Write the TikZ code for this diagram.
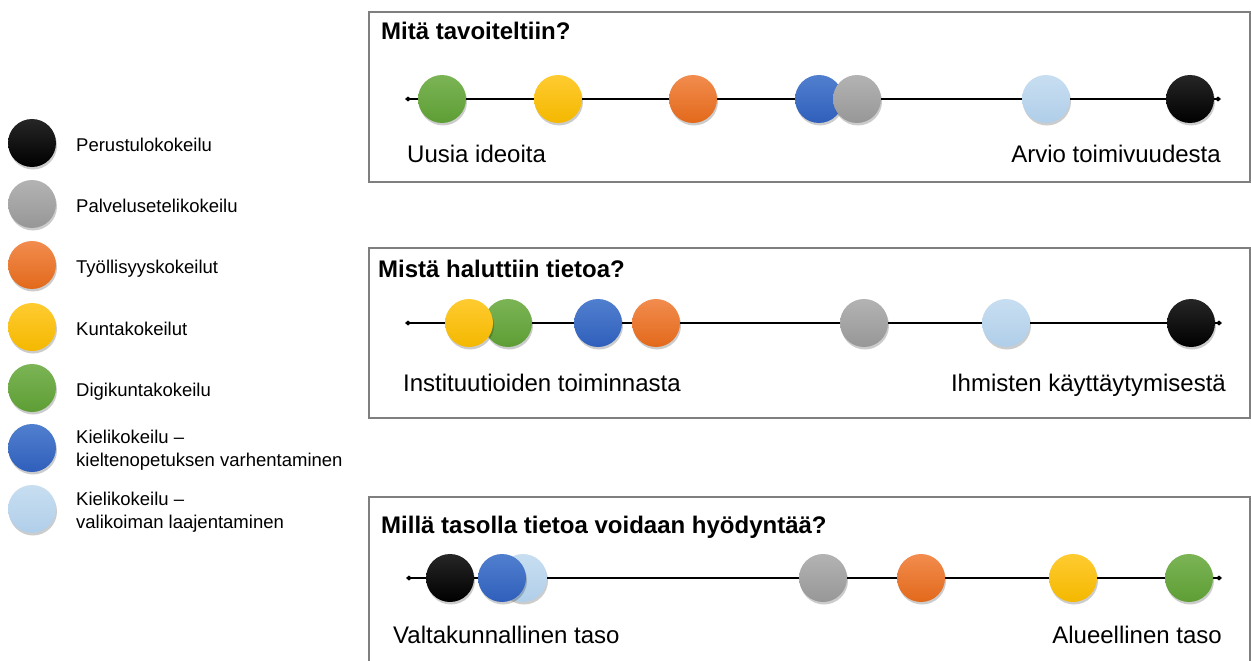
\documentclass[tikz,border=0pt]{standalone}
\usepackage{fontspec}
\setmainfont{Liberation Sans}
\usetikzlibrary{arrows.meta,shadows}
\definecolor{panelgray}{HTML}{7F7F7F}
\definecolor{cblackT}{HTML}{262626}\definecolor{cblackB}{HTML}{000000}
\definecolor{cgrayT}{HTML}{B3B3B3}\definecolor{cgrayB}{HTML}{979797}
\definecolor{corangeT}{HTML}{F28C4E}\definecolor{corangeB}{HTML}{E2691B}
\definecolor{cyellowT}{HTML}{FFCB30}\definecolor{cyellowB}{HTML}{F4B800}
\definecolor{cgreenT}{HTML}{7BB455}\definecolor{cgreenB}{HTML}{5E9E35}
\definecolor{cblueT}{HTML}{517FCF}\definecolor{cblueB}{HTML}{2F5FBB}
\definecolor{clblueT}{HTML}{C8DEF1}\definecolor{clblueB}{HTML}{B0CEE9}
\tikzset{
  ball/.style n args={2}{circle, minimum size=48pt, inner sep=0pt, top color=#1, bottom color=#2,
     drop shadow={shadow xshift=1pt, shadow yshift=-2.5pt, fill=black, opacity=0.2}},
  kblack/.style={ball={cblackT}{cblackB}},
  kgray/.style={ball={cgrayT}{cgrayB}},
  korange/.style={ball={corangeT}{corangeB}},
  kyellow/.style={ball={cyellowT}{cyellowB}},
  kgreen/.style={ball={cgreenT}{cgreenB}},
  kblue/.style={ball={cblueT}{cblueB}},
  klblue/.style={ball={clblueT}{clblueB}},
  panel/.style={draw=panelgray, line width=2.5pt},
  axisline/.style={line width=2.8pt, {Diamond[length=6pt,width=5pt]}-{Diamond[length=6pt,width=5pt]}},
  ttl/.style={inner sep=0pt, anchor=base west, font=\fontsize{24}{28}\selectfont\bfseries},
  lbl/.style={inner sep=0pt, font=\fontsize{24}{28}\selectfont},
  leg/.style={inner sep=0pt, anchor=base west, align=left, font=\fontsize{18.5}{22.5}\selectfont}
}
\begin{document}
\begin{tikzpicture}[x=1pt,y=-1pt]
\clip (0,0) rectangle (1251,661);
\fill[white] (0,0) rectangle (1251,661);

% ---------- legend ----------
\node[kblack]  (l1) at (32,143) {};
\node[kgray]   (l2) at (32,204) {};
\node[korange] (l3) at (32,265) {};
\node[kyellow] (l4) at (32,327) {};
\node[kgreen]  (l5) at (32,388) {};
\node[kblue]   (l6) at (32,448) {};
\node[klblue]  (l7) at (32,509) {};
\node[leg] (t1) at (76,151) {Perustulokokeilu};
\node[leg] (t2) at (76,212) {Palvelusetelikokeilu};
\node[leg] (t3) at (76,273) {Työllisyyskokeilut};
\node[leg] (t4) at (76,335) {Kuntakokeilut};
\node[leg] (t5) at (76,396) {Digikuntakokeilu};
\node[leg] (t6) at (76,466) {Kielikokeilu –\\kieltenopetuksen varhentaminen};
\node[leg] (t7) at (76,528) {Kielikokeilu –\\valikoiman laajentaminen};

% ---------- panel 1 ----------
\draw[panel] (369,12) rectangle (1250,182);
\node[ttl] (p1t) at (381,40) {Mitä tavoiteltiin?};
\coordinate (a1) at (405,99);
\coordinate (b1) at (1221,99);
\draw[axisline] (a1) -- (b1);
\node[kgreen]  (p1g) at (442,99) {};
\node[kyellow] (p1y) at (558,99) {};
\node[korange] (p1o) at (693,99) {};
\node[kblue]   (p1b) at (819,99) {};
\node[kgray]   (p1s) at (857,99) {};
\node[klblue]  (p1l) at (1046,99) {};
\node[kblack]  (p1k) at (1190,99) {};
\node[lbl, anchor=base west] (p1a) at (407,162) {Uusia ideoita};
\node[lbl, anchor=base east] (p1b2) at (1221,162) {Arvio toimivuudesta};

% ---------- panel 2 ----------
\draw[panel] (369,248) rectangle (1250,418);
\node[ttl] (p2t) at (378,277) {Mistä haluttiin tietoa?};
\coordinate (a2) at (405,323);
\coordinate (b2) at (1222,323);
\draw[axisline] (a2) -- (b2);
\node[kgreen]  (p2g) at (508,323) {};
\node[kyellow] (p2y) at (469,323) {};
\node[kblue]   (p2b) at (598,323) {};
\node[korange] (p2o) at (656,323) {};
\node[kgray]   (p2s) at (864,323) {};
\node[klblue]  (p2l) at (1006,323) {};
\node[kblack]  (p2k) at (1191,323) {};
\node[lbl, anchor=base west] (p2a) at (403,391) {Instituutioiden toiminnasta};
\node[lbl, anchor=base east] (p2b2) at (1226,391) {Ihmisten käyttäytymisestä};

% ---------- panel 3 ----------
\draw[panel] (369,497) rectangle (1250,700);
\node[ttl] (p3t) at (381,533) {Millä tasolla tietoa voidaan hyödyntää?};
\coordinate (a3) at (406,578);
\coordinate (b3) at (1222,578);
\draw[axisline] (a3) -- (b3);
\node[kblack]  (p3k) at (450,578) {};
\node[klblue]  (p3l) at (523,578) {};
\node[kblue]   (p3b) at (502,578) {};
\node[kgray]   (p3s) at (823,578) {};
\node[korange] (p3o) at (921,578) {};
\node[kyellow] (p3y) at (1073,578) {};
\node[kgreen]  (p3g) at (1189,578) {};
\node[lbl, anchor=base west] (p3a) at (393,643) {Valtakunnallinen taso};
\node[lbl, anchor=base east] (p3b2) at (1222,643) {Alueellinen taso};
\end{tikzpicture}
\end{document}
